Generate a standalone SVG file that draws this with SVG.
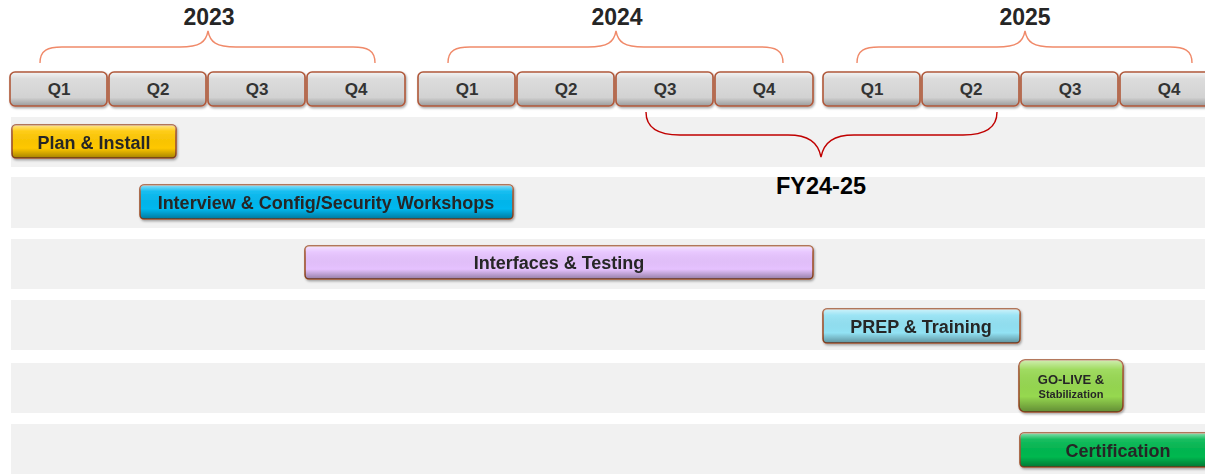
<svg xmlns="http://www.w3.org/2000/svg" width="1205" height="474" viewBox="0 0 1205 474">
  <defs>
    <style>
      .band { fill: #f1f1f1; }
      .qbox { fill: url(#qfill); stroke: #b0583a; stroke-width: 1.6; }
      .qtxt { font-family: "Liberation Sans", Arial, sans-serif; font-weight: bold; font-size: 17px; fill: #333333; text-anchor: middle; }
      .year { font-family: "Liberation Sans", Arial, sans-serif; font-weight: bold; font-size: 23px; fill: #262626; text-anchor: middle; }
      .fy { font-family: "Liberation Sans", Arial, sans-serif; font-weight: bold; font-size: 23.5px; fill: #000000; text-anchor: middle; }
      .brace-y { fill: none; stroke: #f08a6a; stroke-width: 1.4; }
      .brace-fy { fill: none; stroke: #c00000; stroke-width: 1.4; }
      .bar { stroke: #a0522d; stroke-width: 1.6; }
      .gloss { fill: url(#gloss); }
      .btxt { font-family: "Liberation Sans", Arial, sans-serif; font-weight: bold; font-size: 18px; fill: #262626; text-anchor: middle; }
      .btxt-s1 { font-family: "Liberation Sans", Arial, sans-serif; font-weight: bold; font-size: 13px; fill: #262626; text-anchor: middle; }
      .btxt-s2 { font-family: "Liberation Sans", Arial, sans-serif; font-weight: bold; font-size: 11px; fill: #262626; text-anchor: middle; }
    </style>
    <linearGradient id="qfill" x1="0" y1="0" x2="0" y2="1">
      <stop offset="0" stop-color="#f4f4f4"/>
      <stop offset="0.2" stop-color="#dcdcdc"/>
      <stop offset="0.75" stop-color="#d2d2d2"/>
      <stop offset="1" stop-color="#9a9a9a"/>
    </linearGradient>
    <linearGradient id="gloss" x1="0" y1="0" x2="0" y2="1">
      <stop offset="0" stop-color="#ffffff" stop-opacity="0.55"/>
      <stop offset="0.18" stop-color="#ffffff" stop-opacity="0.1"/>
      <stop offset="0.7" stop-color="#000000" stop-opacity="0"/>
      <stop offset="1" stop-color="#000000" stop-opacity="0.35"/>
    </linearGradient>
    <filter id="shadow" x="-5%" y="-20%" width="110%" height="150%">
      <feDropShadow dx="1" dy="1.5" stdDeviation="0.8" flood-color="#000000" flood-opacity="0.35"/>
    </filter>
  </defs>

  <!-- row bands -->
  <g id="bands">
    <rect class="band" x="11" y="117" width="1194" height="50"/>
    <rect class="band" x="11" y="177" width="1194" height="51"/>
    <rect class="band" x="11" y="239" width="1194" height="50"/>
    <rect class="band" x="11" y="300" width="1194" height="50"/>
    <rect class="band" x="11" y="363" width="1194" height="50"/>
    <rect class="band" x="11" y="424" width="1194" height="50"/>
  </g>

  <!-- year headers with braces -->
  <g id="year-2023">
    <text class="year" x="209" y="25">2023</text>
    <path class="brace-y" d="M40,63 C40,50 48,47 62,47 L180,47 C200,47 206,42 208,31 C210,42 216,47 236,47 L353,47 C367,47 375,50 375,63"/>
  </g>
  <g id="year-2024">
    <text class="year" x="617" y="25">2024</text>
    <path class="brace-y" d="M448,63 C448,50 456,47 470,47 L588,47 C608,47 614,42 616,31 C618,42 624,47 644,47 L761,47 C775,47 783,50 783,63"/>
  </g>
  <g id="year-2025">
    <text class="year" x="1025" y="25">2025</text>
    <path class="brace-y" d="M857,63 C857,50 865,47 879,47 L997,47 C1017,47 1023,42 1025,31 C1027,42 1033,47 1053,47 L1170,47 C1184,47 1192,50 1192,63"/>
  </g>

  <!-- quarter boxes -->
  <g id="quarters" filter="url(#shadow)">
    <rect class="qbox" x="10" y="72" width="97" height="34" rx="5"/>
    <rect class="qbox" x="109" y="72" width="97" height="34" rx="5"/>
    <rect class="qbox" x="208" y="72" width="97" height="34" rx="5"/>
    <rect class="qbox" x="307" y="72" width="98" height="34" rx="5"/>
    <rect class="qbox" x="418" y="72" width="97" height="34" rx="5"/>
    <rect class="qbox" x="517" y="72" width="97" height="34" rx="5"/>
    <rect class="qbox" x="616" y="72" width="97" height="34" rx="5"/>
    <rect class="qbox" x="715" y="72" width="98" height="34" rx="5"/>
    <rect class="qbox" x="823" y="72" width="97" height="34" rx="5"/>
    <rect class="qbox" x="922" y="72" width="97" height="34" rx="5"/>
    <rect class="qbox" x="1021" y="72" width="97" height="34" rx="5"/>
    <rect class="qbox" x="1120" y="72" width="97" height="34" rx="5"/>
  </g>
  <g id="quarter-labels">
    <text class="qtxt" x="59" y="95">Q1</text>
    <text class="qtxt" x="158" y="95">Q2</text>
    <text class="qtxt" x="257" y="95">Q3</text>
    <text class="qtxt" x="356" y="95">Q4</text>
    <text class="qtxt" x="467" y="95">Q1</text>
    <text class="qtxt" x="566" y="95">Q2</text>
    <text class="qtxt" x="665" y="95">Q3</text>
    <text class="qtxt" x="764" y="95">Q4</text>
    <text class="qtxt" x="872" y="95">Q1</text>
    <text class="qtxt" x="971" y="95">Q2</text>
    <text class="qtxt" x="1070" y="95">Q3</text>
    <text class="qtxt" x="1169" y="95">Q4</text>
  </g>

  <!-- fiscal-year brace -->
  <g id="fy24-25">
    <path class="brace-fy" d="M646,112 C646,128 658,135 680,135 L788,135 C808,135 818,142 821,157 C824,142 834,135 854,135 L963,135 C985,135 997,128 997,112"/>
    <text class="fy" x="821" y="194">FY24-25</text>
  </g>

  <!-- activity bars -->
  <g id="plan-install" filter="url(#shadow)">
    <rect class="bar" x="12" y="125" width="164" height="33" rx="4" fill="#ffc800"/>
    <rect class="gloss" x="12" y="125" width="164" height="33" rx="4"/>
    <text class="btxt" x="94" y="149">Plan &amp; Install</text>
  </g>
  <g id="interview-workshops" filter="url(#shadow)">
    <rect class="bar" x="140" y="185" width="373" height="34" rx="4" fill="#00b8f0"/>
    <rect class="gloss" x="140" y="185" width="373" height="34" rx="4"/>
    <text class="btxt" x="326" y="209">Interview &amp; Config/Security Workshops</text>
  </g>
  <g id="interfaces-testing" filter="url(#shadow)">
    <rect class="bar" x="305" y="246" width="508" height="33" rx="4" fill="#e6c2ff"/>
    <rect class="gloss" x="305" y="246" width="508" height="33" rx="4"/>
    <text class="btxt" x="559" y="269">Interfaces &amp; Testing</text>
  </g>
  <g id="prep-training" filter="url(#shadow)">
    <rect class="bar" x="823" y="309" width="197" height="34" rx="4" fill="#92e2f4"/>
    <rect class="gloss" x="823" y="309" width="197" height="34" rx="4"/>
    <text class="btxt" x="921" y="333">PREP &amp; Training</text>
  </g>
  <g id="go-live" filter="url(#shadow)">
    <rect class="bar" x="1019" y="360" width="104" height="52" rx="6" fill="#96d850"/>
    <rect class="gloss" x="1019" y="360" width="104" height="52" rx="6"/>
    <text class="btxt-s1" x="1071" y="384">GO-LIVE &amp;</text>
    <text class="btxt-s2" x="1071" y="398">Stabilization</text>
  </g>
  <g id="certification" filter="url(#shadow)">
    <rect class="bar" x="1020" y="433" width="196" height="34" rx="4" fill="#00b850"/>
    <rect class="gloss" x="1020" y="433" width="196" height="34" rx="4"/>
    <text class="btxt" x="1118" y="457">Certification</text>
  </g>
</svg>
